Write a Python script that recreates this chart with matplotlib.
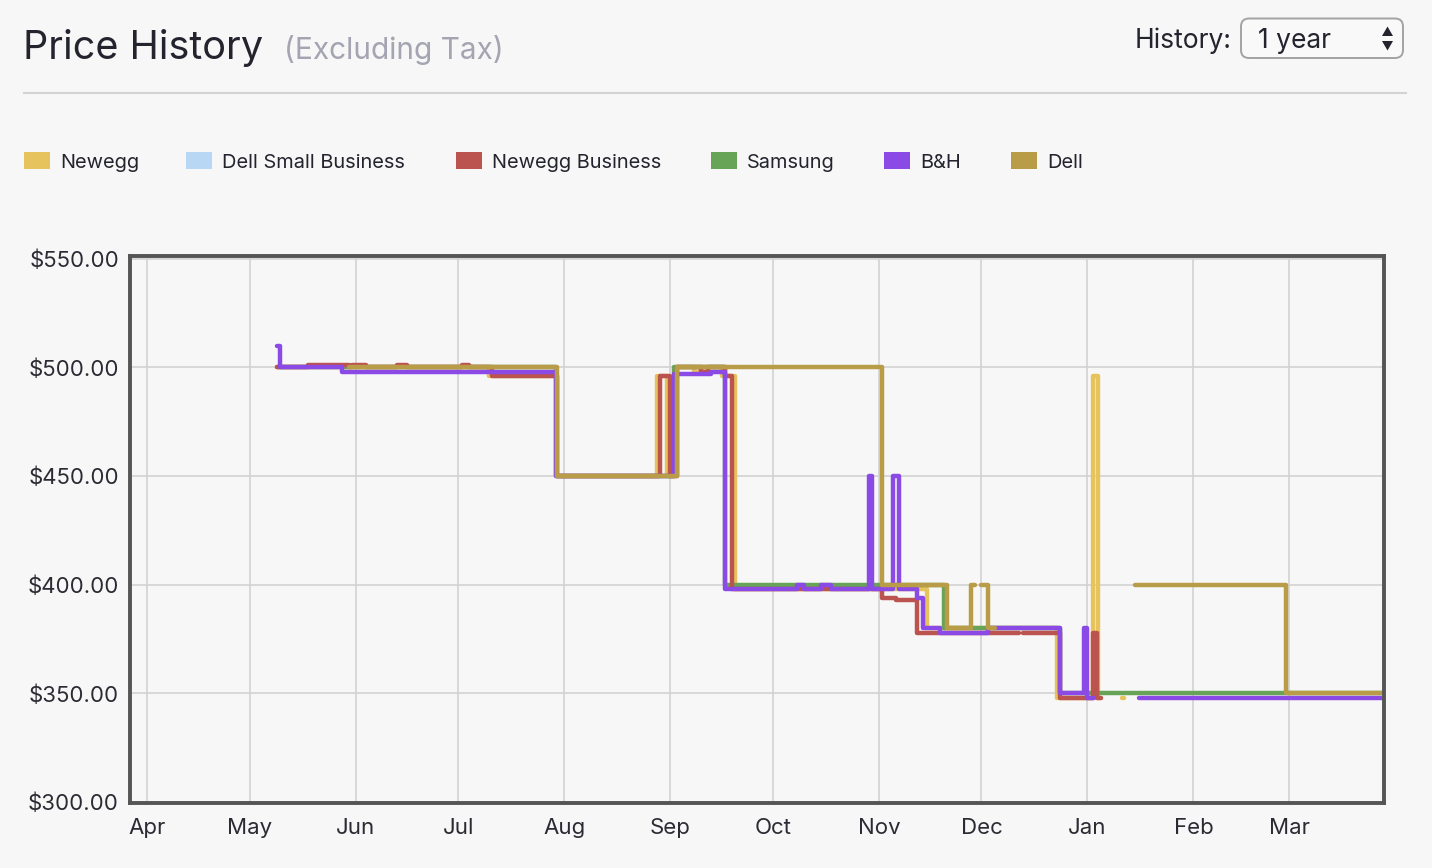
import numpy as np
import pandas as pd
import matplotlib
matplotlib.use('Agg')
import matplotlib.pyplot as plt
import matplotlib.dates as mdates
from matplotlib.patches import Rectangle, FancyBboxPatch, Polygon
from matplotlib.lines import Line2D
from matplotlib.transforms import Affine2D
from matplotlib.ticker import FuncFormatter

nan = np.nan

# ---------------- data ----------------
series_names = ['Newegg', 'Dell Small Business', 'Newegg Business', 'Samsung', 'B&H', 'Dell']
series_colors = ['#e6c35c', '#b7d7f4', '#bb534f', '#67a457', '#8b4ae6', '#b89c47']

newegg_dates = ['2018-05-09', '2018-07-10', '2018-07-30', '2018-08-28', '2018-08-31',
                '2018-09-03', '2018-09-08', '2018-09-10', '2018-09-16', '2018-09-20',
                '2018-11-15', '2018-12-23', '2019-01-02 18:00', '2019-01-04', '2019-01-05',
                '2019-01-11', '2019-01-11 14:00']
newegg_prices = [500, 496, 450, 496, 450,
                 500, 498, 500, 496, 398,
                 380, 348, 496, 348, nan,
                 348, nan]

dellsb_dates = []
dellsb_prices = []

neweggbiz_dates = ['2018-05-09', '2018-05-18', '2018-05-30', '2018-05-31', '2018-06-04',
                   '2018-06-13', '2018-06-16', '2018-07-02', '2018-07-04', '2018-07-11',
                   '2018-07-30', '2018-08-29', '2018-09-01', '2018-09-03', '2018-09-10',
                   '2018-09-12', '2018-09-17', '2018-09-19', '2018-11-02', '2018-11-06',
                   '2018-11-12', '2018-12-12', '2018-12-13', '2018-12-24', '2019-01-02 18:00',
                   '2019-01-03 22:00', '2019-01-05']
neweggbiz_prices = [500, 501, 500, 501, 500,
                    501, 500, 501, 500, 496,
                    450, 496, 450, 500, 498,
                    500, 496, 398, 394, 393,
                    378, nan, 378, 348, 378,
                    348, nan]

samsung_dates = ['2018-05-09', '2018-07-29 12:00', '2018-09-02', '2018-09-17', '2018-11-20',
                 '2018-12-24', '2019-03-29']
samsung_prices = [500, 450, 500, 400, 380, 350, 350]

bh_dates = ['2018-05-09', '2018-05-10', '2018-05-28', '2018-07-29 12:00', '2018-09-02',
            '2018-09-13', '2018-09-17', '2018-10-08', '2018-10-10', '2018-10-15',
            '2018-10-18', '2018-10-29', '2018-10-30', '2018-11-05', '2018-11-07',
            '2018-11-12', '2018-11-14', '2018-11-19', '2018-12-03', '2018-12-24',
            '2018-12-31', '2019-01-01', '2019-01-03', '2019-01-16', '2019-03-29']
bh_prices = [510, 500, 498, 450, 497,
             498, 398, 400, 398, 400,
             398, 450, 398, 450, 398,
             394, 380, 378, 380, 350,
             380, 348, nan, 348, 348]

dell_dates = ['2018-05-30', '2018-07-30', '2018-09-03', '2018-11-02', '2018-11-21',
              '2018-11-28', '2018-11-29', '2018-12-01', '2018-12-03', '2018-12-05',
              '2019-01-15', '2019-02-28', '2019-03-29']
dell_prices = [500, 450, 500, 400, 380,
               400, nan, 400, 380, nan,
               400, 350, 350]

y_ticks = [300, 350, 400, 450, 500, 550]
x_start, x_end = '2018-03-27', '2019-03-28 17:00'

# ---------------- figure ----------------
W, H = 1432, 868
BG = '#f7f7f7'
TXT = '#24242f'
plt.rcParams['font.family'] = ['Inter', 'DejaVu Sans']

fig = plt.figure(figsize=(W / 100, H / 100), dpi=100, facecolor=BG)
T = Affine2D().scale(1 / W, -1 / H).translate(0, 1) + fig.transFigure

# header
fig.text(23, 59, 'Price History', transform=T, fontsize=28.5, color=TXT, va='baseline')
fig.text(284, 59, '(Excluding Tax)', transform=T, fontsize=21.5, color='#a4a4b2', va='baseline')
fig.text(1135, 47.5, 'History:', transform=T, fontsize=19, color=TXT, va='baseline')
fig.patches.append(FancyBboxPatch((1241, 18.5), 162, 39.5, boxstyle='round,pad=0,rounding_size=8',
                                  transform=T, facecolor='#f9f9f9', edgecolor='#a3a3a3', lw=1.4))
fig.text(1258, 47.5, '1 year', transform=T, fontsize=19, color=TXT, va='baseline')
fig.patches.append(Polygon([(1382, 36), (1393, 36), (1387.5, 26.5)], closed=True, transform=T,
                           facecolor=TXT, edgecolor='none'))
fig.patches.append(Polygon([(1382, 41), (1393, 41), (1387.5, 50.5)], closed=True, transform=T,
                           facecolor=TXT, edgecolor='none'))
fig.lines.append(Line2D([24, 1406], [92.5, 92.5], transform=T, color='#d3d3d3', lw=1.5))

# legend
leg_x = [24, 186, 456, 711, 884, 1011]
for name, color, lx in zip(series_names, series_colors, leg_x):
    fig.patches.append(Rectangle((lx, 152), 26, 17, transform=T, facecolor=color, edgecolor='none'))
    fig.text(lx + 36, 168, name, transform=T, fontsize=14.4, color=TXT, va='baseline')

# axes
ax = fig.add_axes([130 / W, 1 - 803 / H, (1384 - 130) / W, (803 - 256) / H])
ax.set_facecolor(BG)

series = [
    (newegg_dates, newegg_prices),
    (dellsb_dates, dellsb_prices),
    (neweggbiz_dates, neweggbiz_prices),
    (samsung_dates, samsung_prices),
    (bh_dates, bh_prices),
    (dell_dates, dell_prices),
]
zorders = [2, 1.5, 3, 2.5, 4, 5]
for (d, p), color, z in zip(series, series_colors, zorders):
    if len(d) == 0:
        continue
    ax.plot(pd.to_datetime(d, format='mixed'), np.array(p, dtype=float), drawstyle='steps-post',
            color=color, lw=3.2, zorder=z, solid_joinstyle='round', solid_capstyle='round')

ax.set_xlim(pd.Timestamp(x_start), pd.Timestamp(x_end))
ax.set_ylim(299.6, 551.3)
ax.set_yticks(y_ticks)
ax.yaxis.set_major_formatter(FuncFormatter(lambda v, _: f'${v:,.2f}'))
ax.xaxis.set_major_locator(mdates.MonthLocator())
ax.xaxis.set_major_formatter(mdates.DateFormatter('%b'))
ax.grid(True, color='#d2d2d2', lw=1.2, zorder=0)
ax.set_axisbelow(True)
ax.tick_params(length=0, labelsize=16, colors='#2b2b33')
ax.tick_params(axis='y', pad=8)
ax.tick_params(axis='x', pad=10.5)
for s in ax.spines.values():
    s.set_color('#555555')
    s.set_linewidth(2.8)
    s.set_zorder(10)

fig.savefig('out.png', dpi=100, facecolor=BG)
